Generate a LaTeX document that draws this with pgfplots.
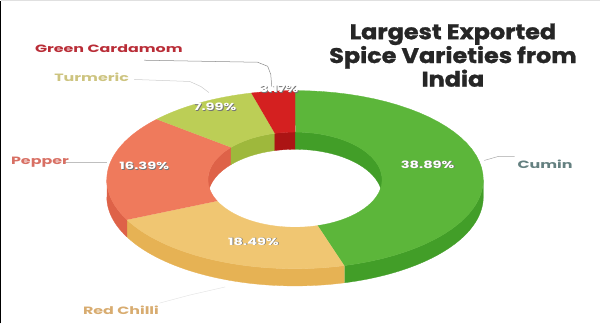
\documentclass[border=0pt]{standalone}
\usepackage{pgfplots}
\pgfplotsset{compat=1.18}
\usepackage{pgfplotstable}
\usepackage{fontspec}
\setmainfont{Poppins}
\newfontfamily\titlefont[FakeBold=1.2]{Poppins}

\definecolor{cuminT}{RGB}{92,182,58}
\definecolor{cuminS}{RGB}{66,158,40}
\definecolor{chilliT}{RGB}{240,198,114}
\definecolor{chilliS}{RGB}{230,178,84}
\definecolor{pepperT}{RGB}{239,122,92}
\definecolor{pepperS}{RGB}{222,98,72}
\definecolor{turmT}{RGB}{188,206,86}
\definecolor{turmS}{RGB}{158,184,60}
\definecolor{cardT}{RGB}{212,32,32}
\definecolor{cardS}{RGB}{172,20,20}
\definecolor{lblCard}{RGB}{185,45,55}
\definecolor{lblTurm}{RGB}{205,196,128}
\definecolor{lblPep}{RGB}{216,112,100}
\definecolor{lblCum}{RGB}{100,128,128}
\definecolor{lblChi}{RGB}{216,172,112}

\pgfplotstableread[col sep=comma, row sep=\\]{
name,value\\
Cumin,38.89\\
Red Chilli,18.49\\
Pepper,16.39\\
Turmeric,7.99\\
Green Cardamom,3.17\\
}\spicedata

\pgfplotstablegetelem{0}{value}\of\spicedata\edef\vA{\pgfplotsretval}
\pgfplotstablegetelem{1}{value}\of\spicedata\edef\vB{\pgfplotsretval}
\pgfplotstablegetelem{2}{value}\of\spicedata\edef\vC{\pgfplotsretval}
\pgfplotstablegetelem{3}{value}\of\spicedata\edef\vD{\pgfplotsretval}
\pgfplotstablegetelem{4}{value}\of\spicedata\edef\vE{\pgfplotsretval}
\pgfmathsetmacro\tot{\vA+\vB+\vC+\vD+\vE}
\pgfmathsetmacro\aA{90}
\pgfmathsetmacro\aB{\aA-360*\vA/\tot}
\pgfmathsetmacro\aC{\aB-360*\vB/\tot}
\pgfmathsetmacro\aD{\aC-360*\vC/\tot}
\pgfmathsetmacro\aE{\aD-360*\vD/\tot}
\pgfmathsetmacro\aF{\aE-360*\vE/\tot}

% donut geometry (pixels)
\def\cx{299}\def\cy{142}
\def\Rx{186}\def\Ry{88}
\def\rx{86}\def\ry{47}
\def\dd{17}

% annular top face from angle #1 to #2
\newcommand\topface[3]{%
 \addplot[fill=#3, draw=#3, line width=0.3pt, domain=0:80,
   samples at={0,...,40,40.001,41,...,80}]
 ({\cx + (x<=40 ? \Rx : \rx)*cos(x<=40 ? (#1)+((#2)-(#1))*x/40 : (#2)-((#2)-(#1))*(x-40)/40)},
  {\cy + (x<=40 ? \Ry : \ry)*sin(x<=40 ? (#1)+((#2)-(#1))*x/40 : (#2)-((#2)-(#1))*(x-40)/40)});
}
% wall between arc (radii #3,#4) and the same arc shifted down
\newcommand\wall[5]{%
 \addplot[fill=#5, draw=#5, line width=0.3pt, domain=0:80,
   samples at={0,...,40,40.001,41,...,80}]
 ({\cx + (#3)*cos(x<=40 ? (#1)+((#2)-(#1))*x/40 : (#2)-((#2)-(#1))*(x-40)/40)},
  {\cy - (x<=40 ? 0 : \dd) + (#4)*sin(x<=40 ? (#1)+((#2)-(#1))*x/40 : (#2)-((#2)-(#1))*(x-40)/40)});
}
\newcommand\pct[3]{%
  \node[xscale=1.45, text=black!55, font=\bfseries\fontsize{10}{12}\selectfont] at (axis cs:#1+0.8,#2-0.8) {#3\%};
  \node[xscale=1.45, text=white, font=\bfseries\fontsize{10}{12}\selectfont] at (axis cs:#1,#2) {#3\%};
}

\begin{document}
\begin{tikzpicture}
\begin{axis}[
  width=600bp, height=329bp, scale only axis,
  xmin=0, xmax=600, ymin=0, ymax=329,
  hide axis, clip=false,
]
% frame
\draw[black, line width=1pt] (axis cs:8,0) -- (axis cs:8,319);
\draw[black!12, line width=0.6pt] (axis cs:8,319) -- (axis cs:600,319);

% outer front walls
\wall{\aB}{0}{\Rx}{\Ry}{cuminS}
\wall{\aC}{\aB}{\Rx}{\Ry}{chilliS}
\wall{-180}{\aC}{\Rx}{\Ry}{pepperS}
% inner far walls
\wall{0}{\aA}{\rx}{\ry}{cuminS}
\wall{\aD}{-180}{\rx}{\ry}{pepperS}
\wall{\aE}{\aD}{\rx}{\ry}{turmS}
\wall{\aF}{\aE}{\rx}{\ry}{cardS}
% top faces
\topface{\aA}{\aB}{cuminT}
\topface{\aB}{\aC}{chilliT}
\topface{\aC}{\aD}{pepperT}
\topface{\aD}{\aE}{turmT}
\topface{\aE}{\aF}{cardT}

% leader lines
\addplot[black!45, line width=0.5pt] coordinates {(150,260) (262,258) (272,254) (275,246) (276,234)};
\addplot[black!20, line width=0.5pt] coordinates {(140,241) (195,239) (206,234) (214,228)};
\addplot[black!25, line width=0.5pt] coordinates {(70,159) (113,159)};
\addplot[black!35, line width=0.5pt] coordinates {(486,161) (500,165) (516,165)};
\addplot[black!10, line width=0.5pt] coordinates {(165,20) (195,28) (230,36)};

% category labels
\node[xscale=1.5, text=lblCard, font=\bfseries\fontsize{10.5}{12}\selectfont] at (axis cs:115,271) {Green Cardamom};
\node[xscale=1.5, text=lblTurm, font=\bfseries\fontsize{10.5}{12}\selectfont] at (axis cs:98,243) {Turmeric};
\node[xscale=1.5, text=lblPep, font=\bfseries\fontsize{10.5}{12}\selectfont] at (axis cs:47,159) {Pepper};
\node[xscale=1.5, text=lblCum, font=\bfseries\fontsize{10.5}{12}\selectfont] at (axis cs:546,157) {Cumin};
\node[xscale=1.5, text=lblChi, font=\bfseries\fontsize{10.5}{12}\selectfont] at (axis cs:127,13) {Red Chilli};

% percentage labels (shadow + white)
\pct{430}{157}{38.89}
\pct{258}{81}{18.49}
\pct{150}{156}{16.39}
\pct{220}{214}{7.99}
\pct{283}{232}{3.17}

% title
\node[align=center, xscale=1.13, text=black!85, font=\titlefont\bfseries\fontsize{21}{21.5}\selectfont] at (axis cs:455,265) {Largest Exported\\Spice Varieties from\\India};
\end{axis}
\end{tikzpicture}
\end{document}
